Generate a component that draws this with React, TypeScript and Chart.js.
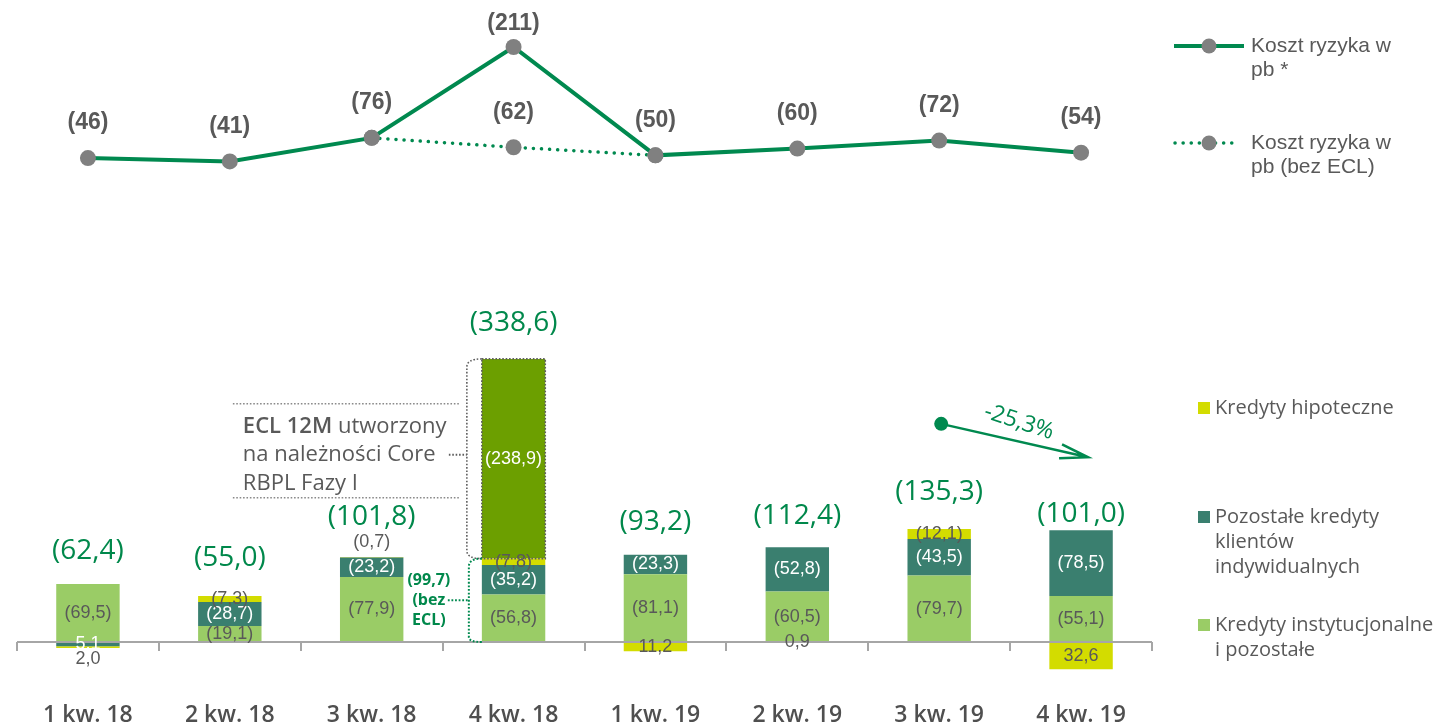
import React, { useEffect, useRef } from 'react';
import { Chart, registerables } from 'chart.js';

Chart.register(...registerables);

// ---------------- DATA ----------------
const categories = ['1 kw. 18', '2 kw. 18', '3 kw. 18', '4 kw. 18', '1 kw. 19', '2 kw. 19', '3 kw. 19', '4 kw. 19'];

// Koszt ryzyka w pb (values shown in parentheses)
const kosztRyzyka = [46, 41, 76, 211, 50, 60, 72, 54];
const kosztRyzykaBezEcl: (number | null)[] = [null, null, 76, 62, 50, null, null, null];

// Cost of risk by segment, mln PLN (positive = cost, shown in parentheses)
const kredytyInstytucjonalne = [69.5, 19.1, 77.9, 56.8, 81.1, 60.5, 79.7, 55.1];
const pozostaleKredyty = [-5.1, 28.7, 23.2, 35.2, 23.3, 52.8, 43.5, 78.5];
const kredytyHipoteczne = [-2.0, 7.3, 0.7, 7.8, -11.2, -0.9, 12.1, -32.6];
const eclCore: (number | null)[] = [null, null, null, 238.9, null, null, null, null];
const totals = [62.4, 55.0, 101.8, 338.6, 93.2, 112.4, 135.3, 101.0];
const totalBezEcl = 99.7;
const changeLabel = '-25,3%';

const lineLegend = [
  ['Koszt ryzyka w', 'pb *'],
  ['Koszt ryzyka w', 'pb (bez ECL)'],
];
const barLegend = [
  ['Kredyty hipoteczne'],
  ['Pozostałe kredyty', 'klientów', 'indywidualnych'],
  ['Kredyty instytucjonalne', 'i pozostałe'],
];
const eclNoteRest = [' utworzony', 'na należności Core', 'RBPL Fazy I'];

// ---------------- STYLE ----------------
const W = 1443;
const H = 726;
const AREA_LEFT = 17;
const AREA_RIGHT = 1152;
const AREA_TOP = 0;
const X_AXIS_H = 40;
const AREA_BOTTOM = H - X_AXIS_H;
const BAR_ZERO_PX = 642;
const BAR_PX_PER_UNIT = 0.8358;
const LINE_ZERO_PX = 189;
const LINE_PX_PER_UNIT = 0.673;

const GREEN = '#00894f';
const GREEN_TEXT = '#00884b';
const GRAY_TEXT = '#595959';
const POINT_GRAY = '#808080';
const C_HIPO = '#d3dc00';
const C_POZ = '#3a7f6f';
const C_INST = '#9acc66';
const C_ECL = '#6c9f00';

const fmt = (v: number) => Math.abs(v).toFixed(1).replace('.', ',');
const segLabel = (v: number) => (v > 0 ? `(${fmt(v)})` : fmt(v));

const FONT_OPEN = '"Open Sans", "Noto Sans", sans-serif';
const FONT_LIB = '"Liberation Sans", Arial, sans-serif';

function drawDotted(ctx: CanvasRenderingContext2D, pts: [number, number][], color: string, width: number, dash: number[]) {
  ctx.save();
  ctx.strokeStyle = color;
  ctx.lineWidth = width;
  ctx.setLineDash(dash);
  ctx.lineCap = 'butt';
  ctx.beginPath();
  pts.forEach((p, i) => (i === 0 ? ctx.moveTo(p[0], p[1]) : ctx.lineTo(p[0], p[1])));
  ctx.stroke();
  ctx.restore();
}

const axisAndLabelsPlugin = {
  id: 'axisAndLabels',
  afterDatasetsDraw(chart: any) {
    const ctx: CanvasRenderingContext2D = chart.ctx;
    const x = chart.scales.x;
    const yB = chart.scales.yB;
    const area = chart.chartArea;
    const zero = yB.getPixelForValue(0);
    ctx.save();
    // x axis line with tick marks at category boundaries
    ctx.strokeStyle = '#a6a6a6';
    ctx.lineWidth = 2;
    ctx.beginPath();
    ctx.moveTo(area.left, zero);
    ctx.lineTo(area.right, zero);
    const n = categories.length;
    const step = (area.right - area.left) / n;
    for (let i = 0; i <= n; i++) {
      const px = Math.round(area.left + i * step);
      ctx.moveTo(px, zero);
      ctx.lineTo(px, zero + 9);
    }
    ctx.stroke();

    // segment labels
    ctx.textAlign = 'center';
    ctx.textBaseline = 'middle';
    ctx.font = `18px ${FONT_LIB}`;
    chart.data.datasets.forEach((ds: any, di: number) => {
      if (ds.type !== 'bar') return;
      const meta = chart.getDatasetMeta(di);
      meta.data.forEach((el: any, i: number) => {
        const v = ds.data[i];
        if (v == null || v === 0) return;
        const { x: ex, y, base } = el.getProps(['x', 'y', 'base'], true);
        let ly = (y + base) / 2;
        const place = ds.labelPlace ? ds.labelPlace[i] : 'center';
        if (place === 'above') ly = Math.min(y, base) - 15;
        if (place === 'below') ly = Math.max(y, base) + 11;
        ctx.fillStyle = place === 'center' ? ds.labelColor : GRAY_TEXT;
        ctx.fillText(segLabel(v), ex, ly);
      });
    });

    // totals
    const lift = [33, 38, 40, 36, 33, 31, 37, 16];
    ctx.font = `28px ${FONT_OPEN}`;
    ctx.fillStyle = GREEN_TEXT;
    for (let i = 0; i < n; i++) {
      let pos = 0;
      chart.data.datasets.forEach((ds: any) => {
        if (ds.type === 'bar' && ds.data[i] != null && ds.data[i] > 0) pos += ds.data[i];
      });
      const top = yB.getPixelForValue(pos);
      ctx.fillText(`(${fmt(totals[i])})`, x.getPixelForValue(i), top - lift[i]);
    }

    // line labels
    ctx.font = `bold 23px ${FONT_LIB}`;
    ctx.fillStyle = GRAY_TEXT;
    [0, 1].forEach((di) => {
      const ds = chart.data.datasets[di];
      const meta = chart.getDatasetMeta(di);
      meta.data.forEach((pt: any, i: number) => {
        const v = ds.data[i];
        if (v == null) return;
        if (di === 1 && v === kosztRyzyka[i]) return;
        const ly = Math.max(pt.y - 35, 24);
        ctx.fillText(`(${v})`, pt.x, ly);
      });
    });
    ctx.restore();
  },
};

const annotationPlugin = {
  id: 'annotations',
  afterDraw(chart: any) {
    const ctx: CanvasRenderingContext2D = chart.ctx;
    const x = chart.scales.x;
    const yB = chart.scales.yB;
    const eclIdx = chart.data.datasets.findIndex((d: any) => d.isEcl);
    const el = chart.getDatasetMeta(eclIdx).data[3];
    const { x: ex, y: top, base, width } = el.getProps(['x', 'y', 'base', 'width'], true);
    const left = ex - width / 2;
    const right = ex + width / 2;
    const zero = yB.getPixelForValue(0);
    const dash = [1.6, 1.8];

    // dotted outline of ECL bar
    drawDotted(ctx, [[left, top], [right, top], [right, base], [left, base], [left, top]], '#5f5f5f', 1.6, dash);
    // gray bracket
    ctx.save();
    ctx.strokeStyle = '#5f5f5f';
    ctx.lineWidth = 1.6;
    ctx.setLineDash(dash);
    ctx.beginPath();
    const bx = left - 15;
    ctx.moveTo(left, top);
    ctx.quadraticCurveTo(bx, top, bx, top + 8);
    ctx.lineTo(bx, base - 8);
    ctx.quadraticCurveTo(bx, base, left, base);
    ctx.stroke();
    ctx.restore();
    const mid = (top + base) / 2;
    drawDotted(ctx, [[left - 33, mid - 4], [bx, mid - 4]], '#5f5f5f', 2, dash);
    drawDotted(ctx, [[left - 249, mid - 55], [left - 22, mid - 55]], '#8a8a8a', 1.6, dash);
    drawDotted(ctx, [[left - 249, mid + 39], [left - 22, mid + 39]], '#8a8a8a', 1.6, dash);

    ctx.save();
    ctx.textBaseline = 'middle';
    ctx.textAlign = 'left';
    ctx.fillStyle = GRAY_TEXT;
    const tx = left - 239;
    ctx.font = `600 22px ${FONT_OPEN}`;
    ctx.fillText('ECL 12M', tx, mid - 32);
    const bw = ctx.measureText('ECL 12M').width;
    ctx.font = `22px ${FONT_OPEN}`;
    ctx.fillText(eclNoteRest[0], tx + bw, mid - 32);
    ctx.fillText(eclNoteRest[1], tx, mid - 4);
    ctx.fillText(eclNoteRest[2], tx, mid + 25);
    ctx.restore();

    // green bracket (bez ECL)
    ctx.save();
    ctx.strokeStyle = GREEN;
    ctx.lineWidth = 2;
    ctx.setLineDash([1.8, 1.8]);
    ctx.beginPath();
    const gx = left - 13;
    ctx.moveTo(left, base);
    ctx.quadraticCurveTo(gx, base, gx, base + 8);
    ctx.lineTo(gx, zero - 5);
    ctx.quadraticCurveTo(gx, zero, left, zero);
    ctx.stroke();
    ctx.restore();
    const gmid = (base + zero) / 2;
    drawDotted(ctx, [[left - 34, gmid], [gx, gmid]], GREEN, 2, [1.8, 1.8]);
    ctx.save();
    ctx.font = `bold 16px ${FONT_OPEN}`;
    ctx.fillStyle = GREEN_TEXT;
    ctx.textAlign = 'center';
    ctx.textBaseline = 'middle';
    const gtx = left - 53;
    ctx.fillText(`(${fmt(totalBezEcl)})`, gtx, gmid - 20);
    ctx.fillText('(bez', gtx, gmid);
    ctx.fillText('ECL)', gtx, gmid + 20);
    ctx.restore();

    // trend arrow -25,3%
    const sx = x.getPixelForValue(6) + 2;
    const sy = yB.getPixelForValue(261);
    const tipX = x.getPixelForValue(7) + 7;
    const tipY = yB.getPixelForValue(221);
    ctx.save();
    ctx.strokeStyle = GREEN;
    ctx.fillStyle = GREEN;
    ctx.lineWidth = 2.5;
    ctx.beginPath();
    ctx.moveTo(sx, sy);
    ctx.lineTo(tipX, tipY);
    ctx.moveTo(tipX - 26, tipY - 13);
    ctx.lineTo(tipX, tipY);
    ctx.lineTo(tipX - 29, tipY + 1);
    ctx.stroke();
    ctx.beginPath();
    ctx.arc(sx, sy, 7, 0, Math.PI * 2);
    ctx.fill();
    ctx.translate(1019, 422);
    ctx.rotate((18 * Math.PI) / 180);
    ctx.font = `23px ${FONT_OPEN}`;
    ctx.textAlign = 'center';
    ctx.textBaseline = 'middle';
    ctx.fillText(changeLabel, 0, 0);
    ctx.restore();

    // legend: lines
    ctx.save();
    const ly = [46, 143];
    ly.forEach((yy, k) => {
      if (k === 0) {
        ctx.strokeStyle = GREEN;
        ctx.lineWidth = 4;
        ctx.beginPath();
        ctx.moveTo(1174, yy);
        ctx.lineTo(1244, yy);
        ctx.stroke();
      } else {
        ctx.strokeStyle = GREEN;
        ctx.lineWidth = 3.5;
        ctx.lineCap = 'round';
        ctx.setLineDash([0.1, 8]);
        ctx.beginPath();
        ctx.moveTo(1175, yy);
        ctx.lineTo(1238, yy);
        ctx.stroke();
        ctx.setLineDash([]);
      }
      ctx.fillStyle = POINT_GRAY;
      ctx.beginPath();
      ctx.arc(1209, yy, 7.5, 0, Math.PI * 2);
      ctx.fill();
      ctx.fillStyle = GRAY_TEXT;
      ctx.font = `21px ${FONT_LIB}`;
      ctx.textAlign = 'left';
      ctx.textBaseline = 'middle';
      lineLegend[k].forEach((t, j) => ctx.fillText(t, 1251, yy + j * 24));
    });

    // legend: bars
    const by = [408, 517, 625];
    const bc = [C_HIPO, C_POZ, C_INST];
    by.forEach((yy, k) => {
      ctx.fillStyle = bc[k];
      ctx.fillRect(1198, yy - 6, 12, 12);
      ctx.fillStyle = GRAY_TEXT;
      ctx.font = `20px ${FONT_OPEN}`;
      ctx.textAlign = 'left';
      ctx.textBaseline = 'middle';
      barLegend[k].forEach((t, j) => ctx.fillText(t, 1215, yy + j * 25));
    });
    ctx.restore();
  },
};

export default function App() {
  const ref = useRef<HTMLCanvasElement | null>(null);
  useEffect(() => {
    if (!ref.current) return;
    const barMin = -(AREA_BOTTOM - BAR_ZERO_PX) / BAR_PX_PER_UNIT;
    const barMax = (BAR_ZERO_PX - AREA_TOP) / BAR_PX_PER_UNIT;
    const lineMin = -(AREA_BOTTOM - LINE_ZERO_PX) / LINE_PX_PER_UNIT;
    const lineMax = (LINE_ZERO_PX - AREA_TOP) / LINE_PX_PER_UNIT;
    const barCommon = {
      type: 'bar' as const,
      yAxisID: 'yB',
      stack: 's',
      barPercentage: 0.447,
      categoryPercentage: 1,
      borderWidth: 0,
    };
    const chart = new Chart(ref.current, {
      type: 'bar',
      data: {
        labels: categories,
        datasets: [
          {
            type: 'line',
            label: 'Koszt ryzyka w pb *',
            data: kosztRyzyka,
            yAxisID: 'yL',
            borderColor: GREEN,
            borderWidth: 4,
            pointRadius: 8,
            pointHoverRadius: 8,
            pointBackgroundColor: POINT_GRAY,
            pointBorderWidth: 0,
            tension: 0,
            clip: false,
            order: 0,
          },
          {
            type: 'line',
            label: 'Koszt ryzyka w pb (bez ECL)',
            data: kosztRyzykaBezEcl,
            yAxisID: 'yL',
            borderColor: GREEN,
            borderWidth: 3.5,
            borderDash: [0.1, 8],
            borderCapStyle: 'round',
            pointRadius: 8,
            pointHoverRadius: 8,
            pointBackgroundColor: POINT_GRAY,
            pointBorderWidth: 0,
            tension: 0,
            clip: false,
            order: 1,
          },
          {
            ...barCommon,
            label: 'Kredyty instytucjonalne i pozostałe',
            data: kredytyInstytucjonalne,
            backgroundColor: C_INST,
            labelColor: GRAY_TEXT,
            order: 2,
          } as any,
          {
            ...barCommon,
            label: 'Pozostałe kredyty klientów indywidualnych',
            data: pozostaleKredyty,
            backgroundColor: C_POZ,
            labelColor: '#ffffff',
            order: 2,
          } as any,
          {
            ...barCommon,
            label: 'Kredyty hipoteczne',
            data: kredytyHipoteczne,
            backgroundColor: C_HIPO,
            labelColor: GRAY_TEXT,
            labelPlace: ['below', 'center', 'above', 'center', 'center', 'center', 'center', 'center'],
            order: 2,
          } as any,
          {
            ...barCommon,
            label: 'ECL 12M Core RBPL Fazy I',
            data: eclCore,
            backgroundColor: C_ECL,
            labelColor: '#ffffff',
            isEcl: true,
            order: 2,
          } as any,
        ],
      },
      options: {
        responsive: false,
        animation: false,
        devicePixelRatio: 1,
        layout: {
          autoPadding: false,
          padding: { left: AREA_LEFT, right: W - AREA_RIGHT, top: AREA_TOP, bottom: 0 },
        },
        plugins: { legend: { display: false }, tooltip: { enabled: false } },
        scales: {
          x: {
            stacked: true,
            offset: true,
            grid: { display: false, drawTicks: false },
            border: { display: false },
            ticks: {
              color: '#4f4f4f',
              font: { family: FONT_OPEN, size: 23, weight: '600' },
              padding: 16,
              maxRotation: 0,
              autoSkip: false,
            },
            afterFit: (s: any) => {
              s.height = X_AXIS_H;
            },
          },
          yB: { type: 'linear', display: false, stacked: true, min: barMin, max: barMax },
          yL: { type: 'linear', display: false, stacked: false, min: lineMin, max: lineMax },
        },
      } as any,
      plugins: [axisAndLabelsPlugin, annotationPlugin],
    });
    return () => chart.destroy();
  }, []);

  return (
    <div style={{ position: 'fixed', left: 0, top: 0, width: W, height: H, background: '#ffffff' }}>
      <canvas ref={ref} width={W} height={H} style={{ display: 'block', width: W, height: H }} />
    </div>
  );
}
